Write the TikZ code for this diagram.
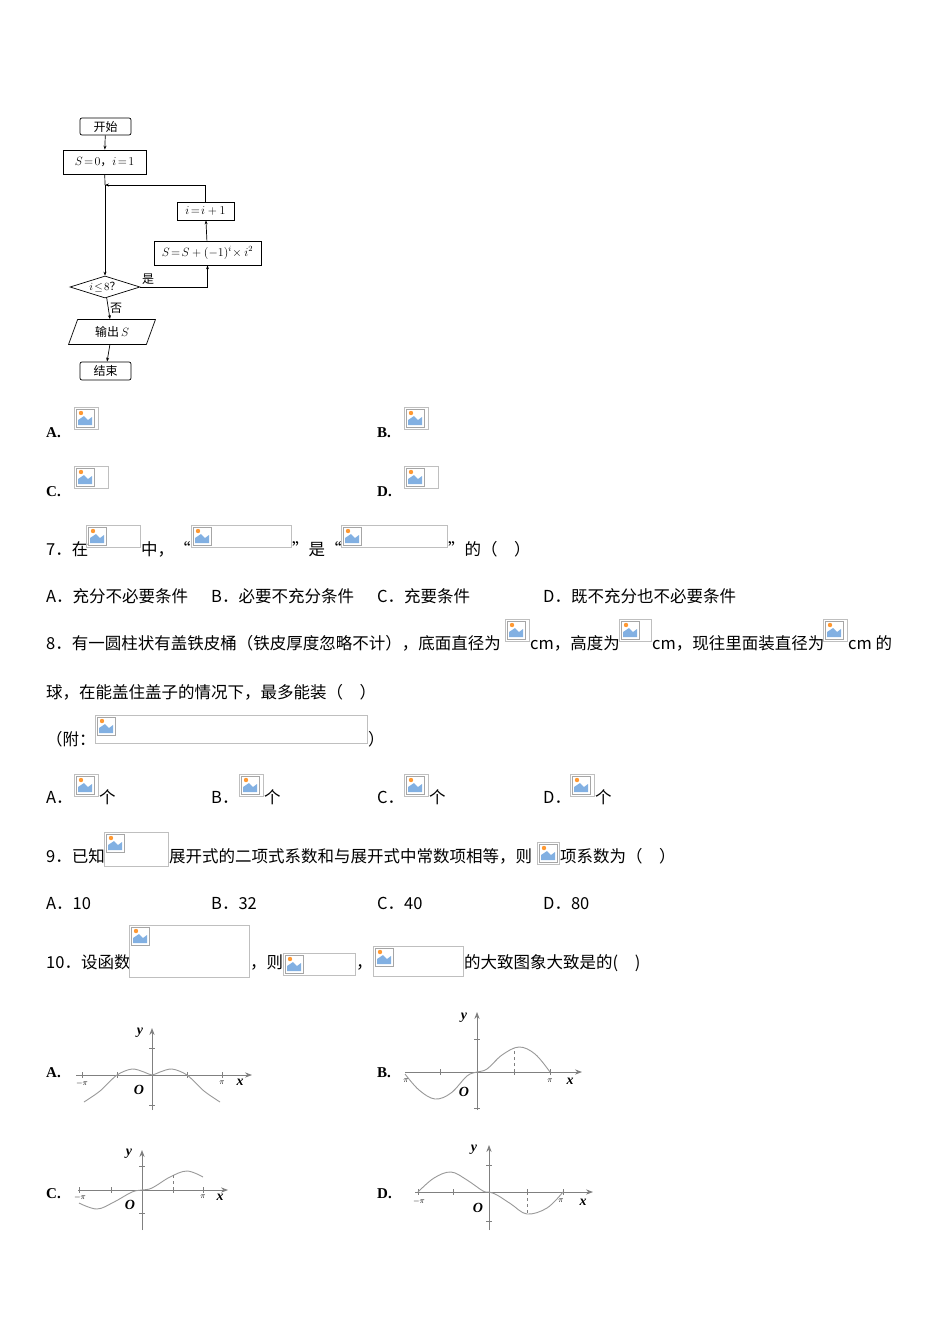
\documentclass[tikz,border=0pt]{standalone}
\usepackage{fontspec}
\setmainfont{Liberation Serif}
\newfontfamily\cjk{Noto Sans CJK SC}
\usetikzlibrary{shapes.geometric,arrows.meta}
\newcommand{\ph}[4]{%
  \draw[gray!50,line width=0.6pt] (#1,#2) rectangle ++(#3,#4);
  \draw[gray!70,fill=white,line width=0.6pt] (#1+2,#2+2) rectangle ++(18,18);
  \fill[cyan!60!blue!50] (#1+4,#2+18) -- (#1+4,#2+13) -- (#1+10,#2+9) -- (#1+14,#2+13) -- (#1+18,#2+10) -- (#1+18,#2+18) -- cycle;
  \fill[orange!80] (#1+7,#2+6) circle (2.2);}
\tikzset{
  tx/.style={anchor=base west,inner sep=0pt,font=\fontsize{16.5}{18}\selectfont\cjk},
  lt/.style={anchor=base west,inner sep=0pt,font=\fontsize{15}{17}\selectfont\bfseries},
  fb/.style={draw,line width=0.7pt,rounded corners=2pt,font=\fontsize{12}{13}\selectfont\cjk,inner sep=1pt},
  fl/.style={line width=0.7pt,-{Stealth[length=4pt,width=3pt]}},
  ax/.style={gray,line width=0.8pt},
  cv/.style={gray!80,line width=0.9pt},
  gl/.style={font=\fontsize{14}{15}\selectfont\bfseries\itshape,inner sep=0pt},
  pl/.style={font=\fontsize{8}{9}\selectfont,inner sep=0pt}
}
\begin{document}
\begin{tikzpicture}[x=1pt,y=-1pt]
\useasboundingbox[fill=white] (0,0) rectangle (950,1344);
% ---- flowchart ----
\node[fb,minimum width=51pt,minimum height=17pt] (start) at (105.5,126.5) {开始};
\node[fb,rounded corners=0pt,minimum width=83pt,minimum height=24pt] (init) at (104.5,162) {$S\!=\!0$，$i\!=\!1$};
\node[fb,rounded corners=0pt,minimum width=57pt,minimum height=18pt] (inc) at (205.5,211) {$i\!=\!i+1$};
\node[fb,rounded corners=0pt,minimum width=107pt,minimum height=24pt] (upd) at (207.5,253) {$S\!=\!S+(-1)^i\!\times i^2$};
\node[draw,diamond,aspect=3.2,line width=0.7pt,inner sep=0pt,minimum width=70pt,minimum height=22pt,font=\fontsize{11}{12}\selectfont\cjk] (cond) at (105,287) {$i\!\le\!8$？};
\node[draw,trapezium,trapezium left angle=70,trapezium right angle=110,line width=0.7pt,minimum width=62pt,minimum height=25pt,inner sep=1pt,font=\fontsize{12}{13}\selectfont\cjk] (out) at (112,332) {输出$\,S$};
\node[fb,minimum width=51pt,minimum height=18pt] (end) at (105.5,371) {结束};
\coordinate (j) at (105,185);
\draw[fl] (start) -- (init);
\draw[line width=0.7pt] (init) -- (j);
\draw[fl] (j) -- (cond);
\draw[fl] (cond.east) -| (upd.south);
\draw[fl] (upd) -- (inc);
\draw[fl] (inc.north) |- (j);
\draw[fl] (cond) -- (out);
\draw[fl] (out) -- (end);
\node[font=\fontsize{12}{13}\selectfont\cjk,inner sep=0pt] at (148,279) {是};
\node[font=\fontsize{12}{13}\selectfont\cjk,inner sep=0pt] at (116,308) {否};
% ---- Q6 options ----
\node[lt] at (46,437) {A.}; \ph{74}{407}{24}{22}
\node[lt] at (377,437) {B.}; \ph{404}{407}{24}{22}
\node[lt] at (46,496) {C.}; \ph{74}{466}{34}{22}
\node[lt] at (377,496) {D.}; \ph{404}{466}{34}{22}
% ---- Q7 ----
\node[tx] at (46,555) {7．在}; \ph{86}{525}{54}{22}
\node[tx] at (141,555) {中，“}; \ph{191}{525}{100}{22}
\node[tx] at (292,555) {”是“}; \ph{341}{525}{106}{22}
\node[tx] at (448,555) {”的（　）};
\node[tx] at (46,602) {A．充分不必要条件};
\node[tx] at (211,602) {B．必要不充分条件};
\node[tx] at (377,602) {C．充要条件};
\node[tx] at (543,602) {D．既不充分也不必要条件};
% ---- Q8 ----
\node[tx] at (46,649) {8．有一圆柱状有盖铁皮桶（铁皮厚度忽略不计），底面直径为}; \ph{505}{619}{24}{22}
\node[tx] at (530,649) {cm，高度为}; \ph{619}{619}{32}{22}
\node[tx] at (652,649) {cm，现往里面装直径为}; \ph{823}{619}{24}{22}
\node[tx] at (848,649) {cm 的};
\node[tx] at (46,698) {球，在能盖住盖子的情况下，最多能装（　）};
\node[tx] at (46,745) {（附：}; \ph{95}{715}{272}{28}
\node[tx] at (368,745) {）};
\node[tx] at (46,803) {A．}; \ph{74}{774}{24}{22} \node[tx] at (99,803) {个};
\node[tx] at (211,803) {B．}; \ph{239}{774}{24}{22} \node[tx] at (264,803) {个};
\node[tx] at (377,803) {C．}; \ph{404}{774}{24}{22} \node[tx] at (429,803) {个};
\node[tx] at (543,803) {D．}; \ph{570}{774}{24}{22} \node[tx] at (595,803) {个};
% ---- Q9 ----
\node[tx] at (46,862) {9．已知}; \ph{104}{832}{64}{34}
\node[tx] at (169,862) {展开式的二项式系数和与展开式中常数项相等，则}; \ph{537}{842}{22}{22}
\node[tx] at (560,862) {项系数为（　）};
\node[tx] at (46,909) {A．10};
\node[tx] at (211,909) {B．32};
\node[tx] at (377,909) {C．40};
\node[tx] at (543,909) {D．80};
% ---- Q10 ----
\node[tx] at (46,968) {10．设函数}; \ph{129}{925}{120}{52}
\node[tx] at (250,968) {，则}; \ph{283}{953}{72}{22}
\node[tx] at (356,968) {，}; \ph{373}{946}{90}{30}
\node[tx] at (464,968) {的大致图象大致是的(　)};
\node[lt] at (46,1077) {A.};
\node[lt] at (377,1077) {B.};
\node[lt] at (46,1198) {C.};
\node[lt] at (377,1198) {D.};
% ---- Graph A ----
\begin{scope}[shift={(152,1075)}]
\draw[ax,-{Stealth[length=7pt]}] (-76,0) -- (100,0);
\draw[ax,-{Stealth[length=7pt]}] (0,35) -- (0,-47);
\foreach \t in {-70,-35,35,70} \draw[ax] (\t,-3) -- (\t,3);
\draw[ax] (-3,-27) -- (3,-27); \draw[ax] (-3,30) -- (3,30);
\draw[cv] plot[smooth] coordinates {(-68,27) (-52,16) (-35,0) (-20,-6) (-8,-3) (0,0) (8,-3) (20,-6) (35,0) (52,16) (68,27)};
\node[gl] at (-12,-42) {y}; \node[gl] at (88,7) {x}; \node[gl] at (-13,15) {O};
\node[pl] at (-70,8) {$-\pi$};
\node[pl] at (70,8) {$\pi$};
\end{scope}
% ---- Graph B ----
\begin{scope}[shift={(477,1072)}]
\draw[ax,-{Stealth[length=7pt]}] (-72,0) -- (105,0);
\draw[ax,-{Stealth[length=7pt]}] (0,38) -- (0,-60);
\foreach \t in {-37,37,73} \draw[ax] (\t,-3) -- (\t,3);
\draw[ax] (-3,-33) -- (3,-33); \draw[ax] (-3,36) -- (3,36);
\draw[cv] plot[smooth,tension=0.6] coordinates {(-72,2) (-58,18) (-42,27) (-26,21) (-10,4) (0,0) (10,-3) (25,-17) (42,-25) (58,-18) (73,0)};
\draw[gray,dashed,line width=0.7pt] (37,0) -- (37,-24);
\node[gl] at (-13,-54) {y}; \node[gl] at (93,9) {x}; \node[gl] at (-13,20) {O};
\node[pl] at (-71,9) {$\pi$};
\node[pl] at (73,9) {$\pi$};
\end{scope}
% ---- Graph C ----
\begin{scope}[shift={(142,1190)}]
\draw[ax,-{Stealth[length=7pt]}] (-64,0) -- (86,0);
\draw[ax,-{Stealth[length=7pt]}] (0,40) -- (0,-40);
\foreach \t in {-63,-31,31,61} \draw[ax] (\t,-3) -- (\t,3);
\draw[ax] (-3,-24) -- (3,-24); \draw[ax] (-3,23) -- (3,23);
\draw[cv] plot[smooth,tension=0.6] coordinates {(-63,13) (-45,19) (-28,12) (-10,2) (0,0) (10,-2) (28,-13) (45,-19) (61,-13)};
\draw[gray,dashed,line width=0.7pt] (31,0) -- (31,-15);
\node[gl] at (-13,-36) {y}; \node[gl] at (78,7) {x}; \node[gl] at (-12,15) {O};
\node[pl] at (-62,7) {$-\pi$};
\node[pl] at (61,7) {$\pi$};
\end{scope}
% ---- Graph D ----
\begin{scope}[shift={(489,1192)}]
\draw[ax,-{Stealth[length=7pt]}] (-74,0) -- (104,0);
\draw[ax,-{Stealth[length=7pt]}] (0,38) -- (0,-47);
\foreach \t in {-71,-36,38,74} \draw[ax] (\t,-3) -- (\t,3);
\draw[ax] (-3,-27) -- (3,-27); \draw[ax] (-3,29) -- (3,29);
\draw[cv] plot[smooth,tension=0.6] coordinates {(-71,0) (-55,-14) (-38,-20) (-22,-12) (-6,-1) (0,0) (8,3) (22,12) (38,22) (58,16) (74,0)};
\draw[gray,dashed,line width=0.7pt] (38,0) -- (38,22);
\node[gl] at (-15,-42) {y}; \node[gl] at (94,10) {x}; \node[gl] at (-11,16) {O};
\node[pl] at (-70,9) {$-\pi$};
\node[pl] at (72,9) {$\pi$};
\end{scope}
\end{tikzpicture}
\end{document}
